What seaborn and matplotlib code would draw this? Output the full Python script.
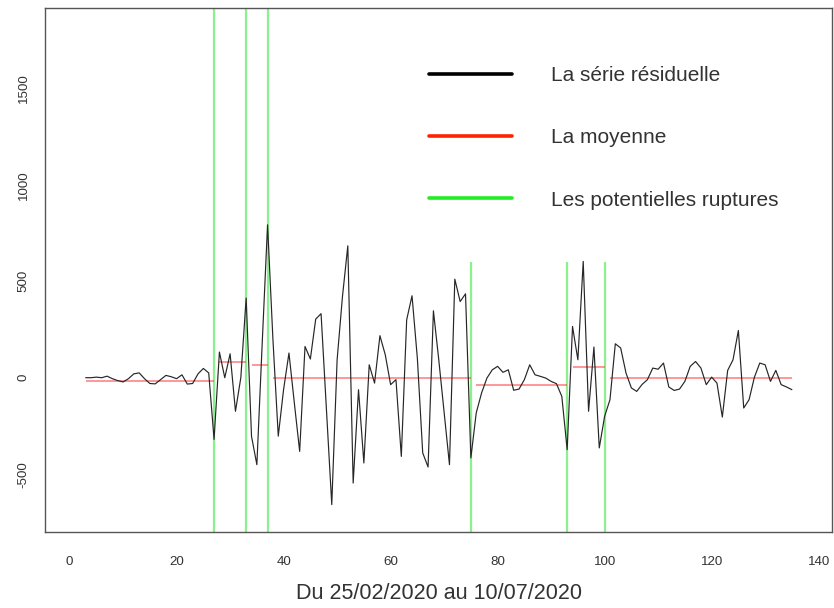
import matplotlib
matplotlib.use("Agg")
import matplotlib.pyplot as plt
from matplotlib.lines import Line2D
import seaborn as sns
import numpy as np
import pandas as pd

# ---- data ----
days = list(range(3, 136))
residual = [
    0, 0, 3, 0, 8, -5, -15, -22, -5, 20, 25, -5, -30, -32, -10, 12, 5, -5, 15, -33, -30, 20, 48, 25, -320,
    133, 0, 124, -174, 0, 413, -304, -451, 180, 793,
    200, -303, -60, 128, -130, -382, 162, 97, 304, 332, -166, -658, 93, 421, 684, -546, -62, -442, 67, -28,
    218, 119, -36, -10, -408, 300, 425, 100, -390, -463, 347, 93, -181, -451, 511, 395, 435, -416,
    -183, -79, -2, 41, 59, 28, 41, -65, -59, -10, 67, 15, 7, -2, -19, -31, -97, -373,
    266, 93, 603, -174, 159, -364, -200,
    -114, 176, 154, 24, -53, -71, -35, -10, 50, 44, 76, -48, -66, -59, -19, 59, 84, 50, -36, 3, -28,
    -204, 38, 93, 245, -157, -114, 3, 76, 67, -19, 38, -36, -48, -62,
]
seg_start = [3, 28, 34, 38, 76, 94, 101]
seg_end = [27, 33, 37, 75, 93, 100, 135]
seg_mean = [-16, 81, 64, -3, -40, 55, 0]
breaks_full = [27, 33, 37]
breaks_short = [75, 93, 100]
short_top = 600
legend_labels = ["La série résiduelle", "La moyenne", "Les potentielles ruptures"]
xlabel = "Du 25/02/2020 au 10/07/2020"

df = pd.DataFrame({"jour": days, "residu": residual})

sns.set_style("white")
plt.rcParams["font.family"] = ["Liberation Sans", "DejaVu Sans"]
plt.rcParams["axes.unicode_minus"] = False

fig = plt.figure(figsize=(8.34, 6.08), dpi=100)
ax = fig.add_axes([45 / 834, 1 - 532 / 608, (832 - 45) / 834, (532 - 8) / 608])

ylo, yhi = -800, 1917
ax.set_xlim(-4.6, 142.5)
ax.set_ylim(ylo, yhi)

for b in breaks_full:
    ax.vlines(b, ylo, yhi, color="#00e000", alpha=0.45, lw=1.6, zorder=1)
for b in breaks_short:
    ax.vlines(b, ylo, short_top, color="#00e000", alpha=0.45, lw=1.6, zorder=1)

for s, e, m in zip(seg_start, seg_end, seg_mean):
    ax.hlines(m, s, e, color="#ff3030", alpha=0.5, lw=1.4, zorder=2)

sns.lineplot(data=df, x="jour", y="residu", ax=ax, color="#262626", lw=0.85, zorder=3)

ax.set_xticks(range(0, 141, 20))
ax.set_yticks(range(-500, 1501, 500))
ax.tick_params(axis="both", direction="out", length=6, width=0.9, color="#444444",
               labelsize=9.6, labelcolor="#333333")
ax.tick_params(axis="x", pad=11)
ax.tick_params(axis="y", labelrotation=90, pad=5)
for lab in ax.get_yticklabels():
    lab.set_va("center")
for sp in ax.spines.values():
    sp.set_color("#555555")
    sp.set_linewidth(1.0)

ax.set_xlabel(xlabel, fontsize=15.5, color="#333333", labelpad=11)
ax.set_ylabel("")

handles = [
    Line2D([], [], color="black", lw=2.6),
    Line2D([], [], color="#ff2200", lw=2.6),
    Line2D([], [], color="#22ee22", lw=2.6),
]
leg = ax.legend(handles, legend_labels, loc="upper left",
                bbox_to_anchor=(429 / 834, 1 - 66 / 608), bbox_transform=fig.transFigure,
                frameon=False, fontsize=15, handlelength=4.0, handletextpad=1.85,
                labelspacing=2.08, borderpad=0, borderaxespad=0)
for t in leg.get_texts():
    t.set_color("#333333")

fig.savefig("out.png", dpi=100)
